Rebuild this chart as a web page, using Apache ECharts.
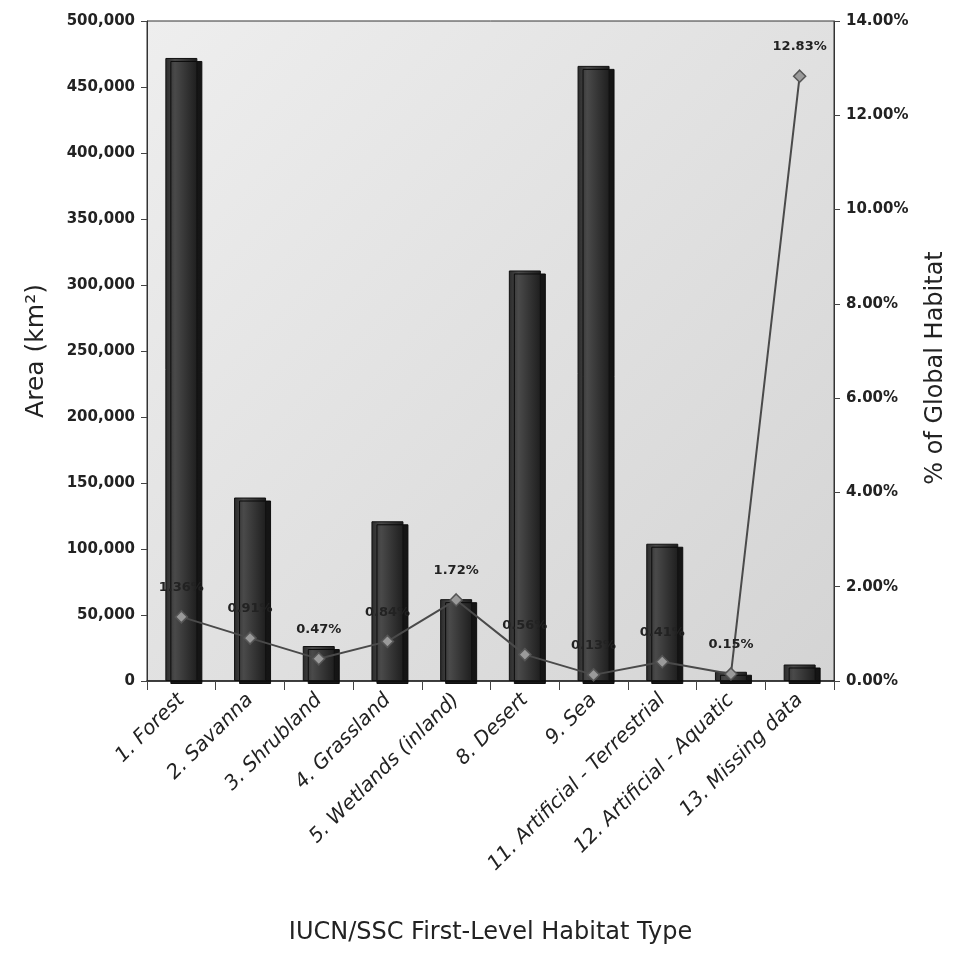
<!DOCTYPE html>
<html>
<head>
<meta charset="utf-8">
<script src="https://cdn.jsdelivr.net/npm/echarts@6/dist/echarts.min.js"></script>
<style>
html,body{margin:0;padding:0;background:#fff;}
#chart{width:956px;height:961px;}
</style>
</head>
<body>
<div id="chart"></div>
<script>
const categories = ["1. Forest","2. Savanna","3. Shrubland","4. Grassland","5. Wetlands (inland)","8. Desert","9. Sea","11. Artificial - Terrestrial","12. Artificial - Aquatic","13. Missing data"];
const areaKm2 = [472000, 139000, 26500, 121000, 62000, 311000, 466000, 104000, 7000, 12500];
const pctGlobal = [1.36, 0.91, 0.47, 0.84, 1.72, 0.56, 0.13, 0.41, 0.15, 12.83];
const leftTicks = {min: 0, max: 500000, interval: 50000};
const rightTicks = {min: 0, max: 14, interval: 2};

const chart = echarts.init(document.getElementById('chart'));
const tickFont = {fontFamily: 'DejaVu Sans, sans-serif', fontWeight: 'bold', fontSize: 15, color: '#222'};
const titleFont = 'DejaVu Sans, sans-serif';
chart.setOption({
  backgroundColor: '#ffffff',
  animation: false,
  grid: {
    left: 147, right: 121, top: 21, bottom: 280,
    show: true,
    backgroundColor: new echarts.graphic.LinearGradient(0, 0, 1, 1, [
      {offset: 0, color: '#eeeeee'}, {offset: 1, color: '#d4d4d4'}
    ]),
    borderColor: '#333', borderWidth: 1
  },
  xAxis: {
    type: 'category',
    data: categories,
    name: 'IUCN/SSC First-Level Habitat Type',
    nameLocation: 'middle',
    nameGap: 240,
    nameTextStyle: {fontFamily: titleFont, fontSize: 24, color: '#222'},
    axisLine: {lineStyle: {color: '#222', width: 1.5}},
    axisTick: {show: true, length: 9, lineStyle: {color: '#444'}},
    axisLabel: {rotate: 45, margin: 16, interval: 0, fontFamily: titleFont, fontStyle: 'italic', fontSize: 20, color: '#222'}
  },
  yAxis: [{
    type: 'value',
    min: leftTicks.min, max: leftTicks.max, interval: leftTicks.interval,
    name: 'Area (km²)',
    nameLocation: 'middle',
    nameGap: 98,
    nameTextStyle: {fontFamily: titleFont, fontSize: 25, color: '#222'},
    axisLine: {show: true, lineStyle: {color: '#333'}},
    axisTick: {show: true, length: 6, lineStyle: {color: '#444'}},
    splitLine: {show: false},
    axisLabel: Object.assign({margin: 12, formatter: v => v.toLocaleString('en-US')}, tickFont)
  }, {
    type: 'value',
    position: 'right',
    min: rightTicks.min, max: rightTicks.max, interval: rightTicks.interval,
    name: '% of Global Habitat',
    nameLocation: 'middle',
    nameRotate: 90,
    nameGap: 90,
    nameTextStyle: {fontFamily: titleFont, fontSize: 24, color: '#222', padding: [0, 34, 0, 0]},
    axisLine: {show: true, lineStyle: {color: '#333'}},
    axisTick: {show: true, length: 6, lineStyle: {color: '#444'}},
    splitLine: {show: false},
    axisLabel: Object.assign({margin: 12, formatter: v => v.toFixed(2) + '%'}, tickFont)
  }],
  series: [{
    type: 'bar',
    data: areaKm2,
    yAxisIndex: 0,
    barWidth: 32,
    itemStyle: {
      color: new echarts.graphic.LinearGradient(0, 0, 1, 0, [
        {offset: 0, color: '#2a2a2a'}, {offset: 0.3, color: '#4a4a4a'}, {offset: 1, color: '#1e1e1e'}
      ]),
      borderColor: '#111', borderWidth: 1,
      shadowColor: 'rgba(10,10,10,0.95)', shadowOffsetX: 5, shadowOffsetY: 3, shadowBlur: 0
    },
    z: 2
  }, {
    type: 'line',
    data: pctGlobal,
    yAxisIndex: 1,
    symbol: 'diamond',
    symbolSize: 12,
    lineStyle: {color: '#4a4a4a', width: 2},
    itemStyle: {color: '#9a9a9a', borderColor: '#555', borderWidth: 1.5},
    label: {
      show: true, position: 'top', distance: 16,
      formatter: p => p.value.toFixed(2) + '%',
      fontFamily: 'DejaVu Sans, sans-serif', fontWeight: 'bold', fontSize: 13, color: '#222'
    },
    z: 3
  }]
});
</script>
</body>
</html>
